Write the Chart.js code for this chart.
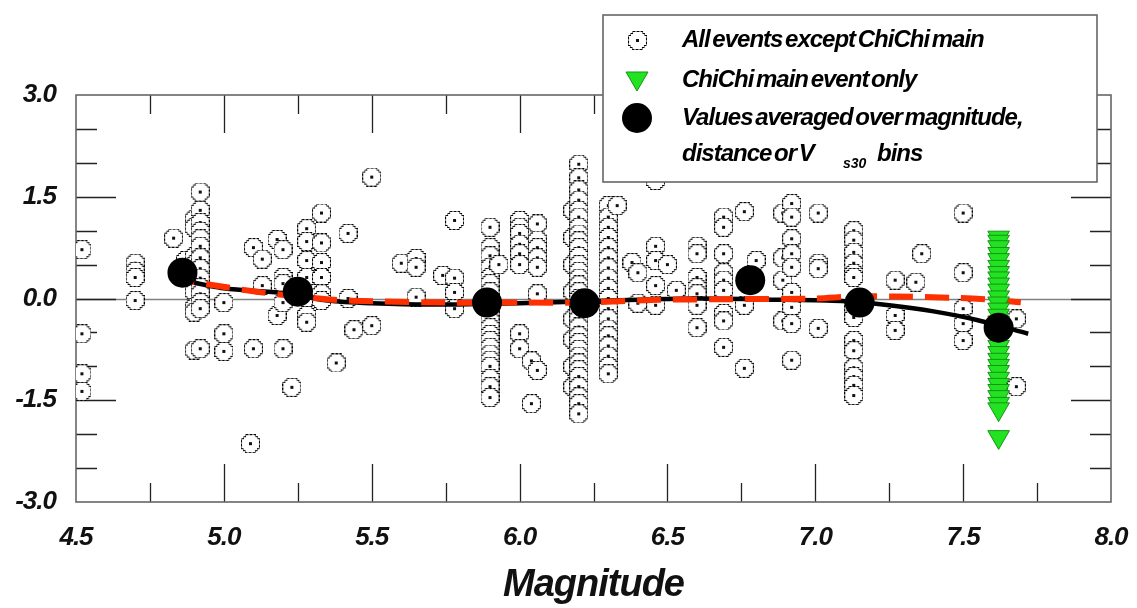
<!DOCTYPE html>
<html>
<head>
<meta charset="utf-8">
<script src="https://cdn.jsdelivr.net/npm/chart.js@4.4.0/dist/chart.umd.min.js"></script>
<style>
    html, body { margin: 0; padding: 0; background: #fff; }
    #wrap { width: 1137px; height: 608px; }
</style>
</head>
<body>
<div id="wrap"><canvas id="grafico" width="1137" height="608"></canvas></div>
<script>
// ---------------------------------------------------------------------
//  Residuales vs magnitud
// ---------------------------------------------------------------------

const magTicks = [4.5, 5.0, 5.5, 6.0, 6.5, 7.0, 7.5, 8.0];
const magMinor = [4.75, 5.25, 5.75, 6.25, 6.75, 7.25, 7.75];
const resTicks = [-3.0, -1.5, 0.0, 1.5, 3.0];
const resMinor = [-2.5, -2.0, -1.0, -0.5, 0.5, 1.0, 2.0, 2.5];

// otros eventos: [magnitud, [residuales...]]
const otherEvents = [
    [4.52, [0.72, -0.52, -1.11, -1.37]],
    [4.70, [0.52, 0.40, 0.31, -0.03]],
    [4.83, [0.89]],
    [4.87, [0.56]],
    [4.90, [1.17, 1.05, 0.62, 0.50, 0.10, -0.13, -0.20, -0.76]],
    [4.92, [1.57, 1.30, 1.12, 0.99, 0.88, 0.77, 0.60, 0.44, 0.30, 0.16, 0.07, -0.06, -0.15, -0.74]],
    [5.00, [-0.06, -0.52, -0.78]],
    [5.09, [-2.14]],
    [5.10, [0.75, -0.74]],
    [5.13, [0.58, 0.19]],
    [5.18, [0.87, -0.25]],
    [5.20, [0.72, 0.31, 0.22, -0.06, -0.74]],
    [5.23, [-1.31]],
    [5.28, [1.03, 0.84, 0.56, 0.31, 0.01, -0.25, -0.35]],
    [5.33, [1.26, 0.82, 0.53, 0.31, 0.07, -0.03]],
    [5.38, [-0.95]],
    [5.42, [0.96, 0.00]],
    [5.44, [-0.46]],
    [5.50, [1.79, -0.40]],
    [5.60, [0.52]],
    [5.65, [0.59, 0.46, 0.02]],
    [5.74, [0.34]],
    [5.78, [1.15, 0.30, 0.09, -0.15]],
    [5.90, [1.05, 0.75, 0.63, 0.46, 0.31, 0.22, 0.10, -0.10, -0.22, -0.33, -0.43, -0.53, -0.62, -0.72, -0.82, -0.91, -1.00, -1.18, -1.30, -1.46]],
    [5.93, [0.50]],
    [6.00, [1.15, 1.05, 0.96, 0.80, 0.66, 0.50, -0.52, -0.74]],
    [6.04, [-0.92, -1.55]],
    [6.06, [1.10, 0.86, 0.75, 0.60, 0.46, 0.07, -1.06]],
    [6.18, [1.30, 0.90, 0.50, 0.10, -0.30, -0.60, -1.00, -1.30]],
    [6.20, [1.98, 1.78, 1.60, 1.45, 1.30, 1.20, 1.05, 0.95, 0.85, 0.75, 0.62, 0.50, 0.40, 0.30, 0.20, 0.10, 0.00,
            -0.10, -0.20, -0.30, -0.42, -0.55, -0.65, -0.75, -0.85, -0.95, -1.05, -1.15, -1.30, -1.45, -1.55, -1.70]],
    [6.30, [1.37, 1.20, 1.05, 0.90, 0.75, 0.60, 0.45, 0.30, 0.15, 0.00, -0.15, -0.30, -0.45, -0.55, -0.70, -0.85, -1.00, -1.11]],
    [6.33, [1.37]],
    [6.38, [0.53]],
    [6.40, [0.38, -0.07]],
    [6.46, [1.74, 0.77, 0.56, 0.19, -0.10]],
    [6.50, [0.50]],
    [6.53, [0.12]],
    [6.60, [0.77, 0.66, 0.31, 0.16, 0.07, -0.10, -0.43]],
    [6.69, [1.20, 1.05, 0.66, 0.38, 0.27, 0.12, -0.22, -0.33, -0.72]],
    [6.76, [1.28, -0.10, -1.03]],
    [6.80, [0.56]],
    [6.89, [1.26, 0.60, 0.27, -0.33]],
    [6.92, [1.40, 1.20, 0.88, 0.66, 0.46, 0.09, -0.13, -0.37, -0.91]],
    [7.01, [1.26, 0.52, 0.44, -0.44]],
    [7.13, [1.00, 0.86, 0.68, 0.52, 0.37, 0.31, -0.15, -0.28, -0.62, -0.77, -1.02, -1.15, -1.28, -1.43]],
    [7.27, [0.27, -0.25, -0.47]],
    [7.34, [0.24]],
    [7.36, [0.66]],
    [7.50, [1.26, 0.38, -0.15, -0.37, -0.62]],
    [7.68, [-0.30, -1.30]],
];

// evento principal Chi-Chi
const chiChiMag = 7.62;
const chiChiRes = [0.90, 0.84, 0.76, 0.66, 0.57, 0.47, 0.38, 0.30, 0.21, 0.12, 0.02, -0.07, -0.16, -0.25,
                   -0.35, -0.44, -0.53, -0.62, -0.71, -0.80, -0.90, -0.99, -1.08, -1.18, -1.27, -1.36,
                   -1.45, -1.55, -1.63, -2.04];

// promedios por intervalo
const binMag = [4.86, 5.25, 5.89, 6.22, 6.78, 7.15, 7.62];
const binRes = [0.38, 0.10, -0.06, -0.07, 0.27, -0.06, -0.43];

// curvas de tendencia
const redMag = [4.82, 4.96, 5.11, 5.25, 5.37, 5.50, 5.75, 6.00, 6.20, 6.47, 6.72, 7.00, 7.13, 7.27, 7.47, 7.60, 7.73];
const redRes = [0.30, 0.20, 0.10, 0.03, -0.02, -0.04, -0.06, -0.06, -0.06, -0.02, -0.01, 0.00, 0.03, 0.03, 0.01, -0.02, -0.07];
const blackMag = [4.83, 5.00, 5.20, 5.35, 5.50, 5.70, 6.00, 6.30, 6.60, 6.90, 7.10, 7.25, 7.40, 7.55, 7.72];
const blackRes = [0.30, 0.15, 0.08, -0.03, -0.07, -0.09, -0.07, -0.03, 0.00, -0.02, -0.04, -0.10, -0.19, -0.32, -0.52];

const FUENTE = '"Liberation Sans", Arial, sans-serif';
const VERDE = 'rgb(34,226,34)';
const VERDE_BORDE = 'rgb(20,150,20)';
const ROJO = 'rgb(255,48,0)';

// marcador: cuadro con esquinas escalonadas y punto central
function marcaCuadro() {
    const c = document.createElement('canvas');
    c.width = 19; c.height = 19;
    const g = c.getContext('2d');
    const p = [[4.5, 0.5], [14.5, 0.5], [14.5, 2.5], [16.5, 2.5], [16.5, 4.5], [18.5, 4.5],
               [18.5, 14.5], [16.5, 14.5], [16.5, 16.5], [14.5, 16.5], [14.5, 18.5], [4.5, 18.5],
               [4.5, 16.5], [2.5, 16.5], [2.5, 14.5], [0.5, 14.5], [0.5, 4.5], [2.5, 4.5],
               [2.5, 2.5], [4.5, 2.5]];
    g.beginPath();
    p.forEach(([x, y], i) => (i ? g.lineTo(x, y) : g.moveTo(x, y)));
    g.closePath();
    g.fillStyle = '#fff';
    g.fill();
    g.strokeStyle = '#000';
    g.lineWidth = 1.1;
    g.setLineDash([3, 1]);
    g.stroke();
    g.fillStyle = '#111';
    g.fillRect(8, 8, 3, 3);
    return c;
}
const cuadro = marcaCuadro();

const puntos = (xs, ys) => xs.map((x, i) => ({ x, y: ys[i] }));

// texto apretado como en el original
const apretado = {
    id: 'apretado',
    beforeDraw(chart) { chart.ctx.letterSpacing = '-1px'; },
};

// marco, línea cero y ticks hacia dentro
const marco = {
    id: 'marco',
    beforeDatasetsDraw(chart) {
        const { ctx, chartArea: a, scales: { x, y } } = chart;
        ctx.save();
        const y0 = Math.round(y.getPixelForValue(0)) + 0.5;
        ctx.strokeStyle = '#808080';
        ctx.lineWidth = 1.5;
        ctx.beginPath(); ctx.moveTo(a.left, y0); ctx.lineTo(a.right, y0); ctx.stroke();

        ctx.strokeStyle = '#222';
        ctx.lineWidth = 1.3;
        const vx = (v, len) => {
            const px = Math.round(x.getPixelForValue(v)) + 0.5;
            ctx.beginPath();
            ctx.moveTo(px, a.bottom); ctx.lineTo(px, a.bottom - len);
            ctx.moveTo(px, a.top); ctx.lineTo(px, a.top + len);
            ctx.stroke();
        };
        const hy = (v, len) => {
            const py = Math.round(y.getPixelForValue(v)) + 0.5;
            ctx.beginPath();
            ctx.moveTo(a.left, py); ctx.lineTo(a.left + len, py);
            ctx.moveTo(a.right, py); ctx.lineTo(a.right - len, py);
            ctx.stroke();
        };
        magTicks.slice(1, -1).forEach((v) => vx(v, 38));
        magMinor.forEach((v) => vx(v, 19));
        resTicks.slice(1, -1).forEach((v) => hy(v, 40));
        resMinor.forEach((v) => hy(v, 21));

        ctx.strokeStyle = '#666';
        ctx.lineWidth = 1.6;
        ctx.strokeRect(a.left, a.top, a.right - a.left, a.bottom - a.top);
        ctx.restore();
    },
};

// leyenda flotante (se dibuja encima de todo)
const leyenda = {
    id: 'leyenda',
    afterDraw(chart) {
        const { ctx } = chart;
        ctx.save();
        ctx.fillStyle = '#fff';
        ctx.fillRect(603, 15, 494, 167);
        ctx.strokeStyle = '#666';
        ctx.lineWidth = 1.6;
        ctx.strokeRect(603, 15, 494, 167);

        ctx.drawImage(cuadro, 628, 31);

        ctx.beginPath();
        ctx.moveTo(626, 72); ctx.lineTo(648, 72); ctx.lineTo(637, 91); ctx.closePath();
        ctx.fillStyle = VERDE; ctx.fill();
        ctx.strokeStyle = VERDE_BORDE; ctx.lineWidth = 1; ctx.stroke();

        ctx.beginPath();
        ctx.arc(637, 118, 15, 0, Math.PI * 2);
        ctx.fillStyle = '#000'; ctx.fill();

        ctx.fillStyle = '#000';
        ctx.textBaseline = 'middle';
        ctx.font = `italic bold 24px ${FUENTE}`;
        ctx.letterSpacing = '-1px';
        ctx.wordSpacing = '-3px';
        ctx.fillText('All events except ChiChi main', 682, 40);
        ctx.fillText('ChiChi main event only', 682, 80);
        ctx.fillText('Values averaged over magnitude,', 682, 118);
        ctx.fillText('distance or V', 682, 154);
        ctx.fillText('bins', 877, 154);
        ctx.font = `italic bold 14px ${FUENTE}`;
        ctx.letterSpacing = '0px';
        ctx.fillText('s30', 843, 164);
        ctx.restore();
    },
};

const fmt = (v) => Number(v).toFixed(1);

new Chart(document.getElementById('grafico'), {
    type: 'scatter',
    data: {
        datasets: [
            {
                label: 'All events except ChiChi main',
                data: otherEvents.flatMap(([m, rs]) => rs.map((r) => ({ x: m, y: r }))),
                pointStyle: cuadro,
                pointRadius: 9,
                order: 5,
            },
            {
                label: 'tendencia (negra)',
                data: puntos(blackMag, blackRes),
                showLine: true,
                borderColor: '#000',
                borderWidth: 4.5,
                pointRadius: 0,
                tension: 0.3,
                order: 4,
            },
            {
                label: 'tendencia (roja)',
                data: puntos(redMag, redRes),
                showLine: true,
                borderColor: ROJO,
                borderWidth: 6,
                borderDash: [24, 12],
                pointRadius: 0,
                tension: 0.3,
                order: 3,
            },
            {
                label: 'ChiChi main event only',
                data: chiChiRes.map((r) => ({ x: chiChiMag, y: r })),
                pointStyle: 'triangle',
                rotation: 180,
                pointRadius: 12.5,
                backgroundColor: VERDE,
                borderColor: VERDE_BORDE,
                borderWidth: 1,
                order: 2,
            },
            {
                label: 'Values averaged over magnitude, distance or Vs30 bins',
                data: puntos(binMag, binRes),
                pointStyle: 'circle',
                pointRadius: 15,
                backgroundColor: '#000',
                borderColor: '#000',
                borderWidth: 0,
                order: 1,
            },
        ],
    },
    options: {
        responsive: false,
        animation: false,
        events: [],
        layout: { autoPadding: false, padding: { top: 95, right: 26, left: 0, bottom: 0 } },
        plugins: { legend: { display: false }, tooltip: { enabled: false } },
        scales: {
            x: {
                type: 'linear',
                min: 4.5,
                max: 8.0,
                afterFit: (s) => { s.height = 106; s.paddingLeft = 0; s.paddingRight = 0; },
                afterBuildTicks: (s) => { s.ticks = magTicks.map((v) => ({ value: v })); },
                grid: { display: false, drawTicks: false },
                border: { display: false },
                ticks: {
                    padding: 20,
                    color: '#111',
                    font: { family: FUENTE, size: 26, weight: 'bold', style: 'italic' },
                    callback: fmt,
                },
                title: {
                    display: true,
                    text: 'Magnitude',
                    color: '#111',
                    padding: { top: 0, bottom: 0 },
                    font: { family: FUENTE, size: 38, weight: 'bold', style: 'italic' },
                },
            },
            y: {
                type: 'linear',
                min: -3,
                max: 3,
                afterFit: (s) => { s.width = 76; s.paddingTop = 0; s.paddingBottom = 0; },
                afterBuildTicks: (s) => { s.ticks = resTicks.map((v) => ({ value: v })); },
                grid: { display: false, drawTicks: false },
                border: { display: false },
                ticks: {
                    padding: 20,
                    color: '#111',
                    font: { family: FUENTE, size: 26, weight: 'bold', style: 'italic' },
                    callback: fmt,
                },
            },
        },
    },
    plugins: [apretado, marco, leyenda],
});
</script>
</body>
</html>
